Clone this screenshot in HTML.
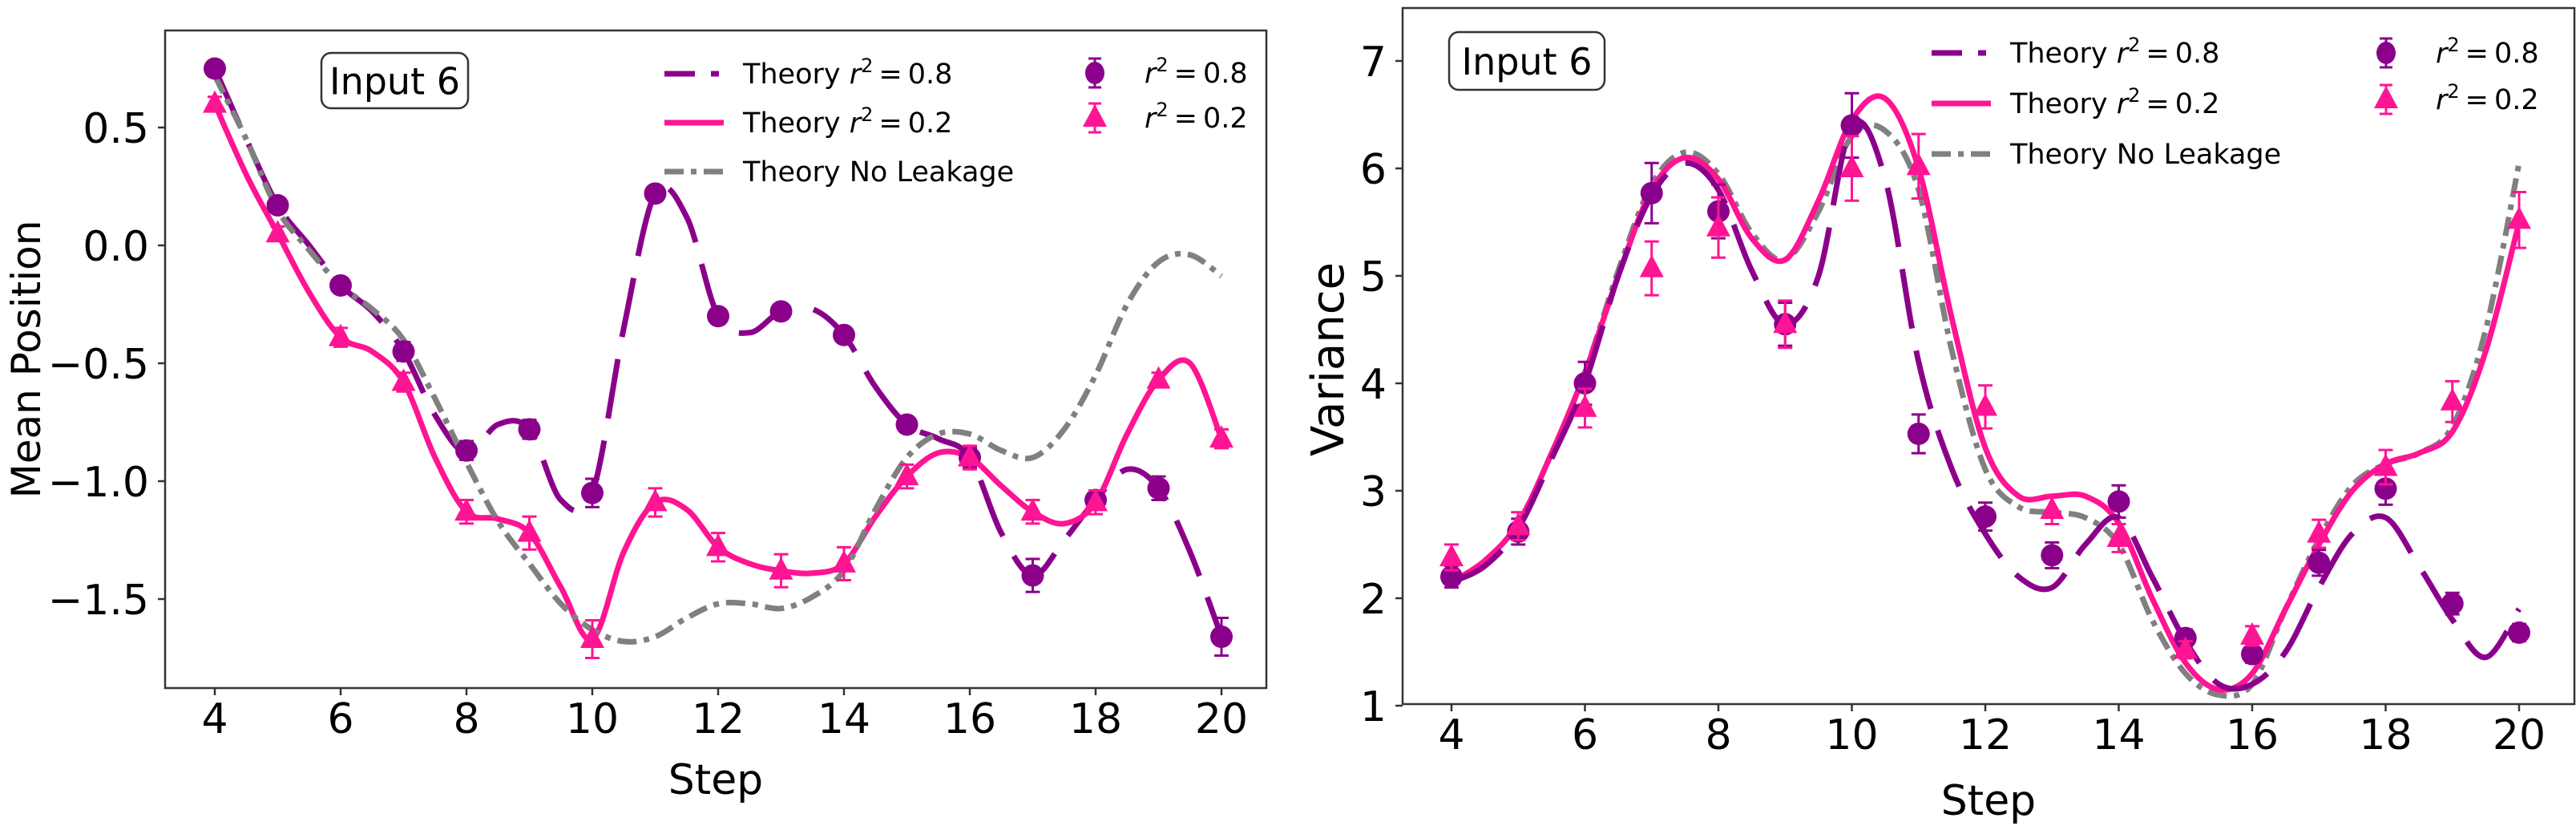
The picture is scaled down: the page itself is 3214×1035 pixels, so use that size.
<!DOCTYPE html>
<html><head><meta charset="utf-8">
<style>
html,body{margin:0;padding:0;background:#fff;}
svg{display:block;}
text{font-family:"DejaVu Sans","Liberation Sans",sans-serif;fill:#000;}
</style></head>
<body>
<svg id="fig" width="3214" height="1035" viewBox="0 0 3214 1035" xmlns="http://www.w3.org/2000/svg"></svg>
<script>
// ---------- data ----------
const steps = [4,5,6,7,8,9,10,11,12,13,14,15,16,17,18,19,20];
const thX = [4,4.5,5,5.5,6,6.5,7,7.5,8,8.5,9,9.5,10,10.5,11,11.5,12,12.5,13,13.5,14,14.5,15,15.5,16,16.5,17,17.5,18,18.5,19,19.5,20];

const meanPts08 = [0.75,0.17,-0.17,-0.45,-0.87,-0.78,-1.05,0.22,-0.30,-0.28,-0.38,-0.76,-0.90,-1.40,-1.08,-1.03,-1.66];
const meanErr08 = [0.03,0.03,0.03,0.04,0.04,0.04,0.06,0.03,0.03,0.03,0.03,0.03,0.04,0.07,0.04,0.05,0.08];
const meanPts02 = [0.60,0.05,-0.39,-0.58,-1.13,-1.22,-1.67,-1.09,-1.28,-1.38,-1.35,-0.98,-0.90,-1.13,-1.09,-0.57,-0.82];
const meanErr02 = [0.03,0.03,0.04,0.04,0.05,0.07,0.08,0.06,0.06,0.07,0.07,0.05,0.05,0.05,0.05,0.03,0.04];
const meanTh08 = [0.75,0.45,0.17,0.0,-0.17,-0.28,-0.45,-0.72,-0.88,-0.76,-0.78,-1.08,-1.05,-0.35,0.22,0.12,-0.30,-0.37,-0.28,-0.27,-0.38,-0.60,-0.76,-0.82,-0.90,-1.22,-1.40,-1.25,-1.08,-0.95,-1.03,-1.30,-1.66];
const meanTh02 = [0.60,0.30,0.05,-0.20,-0.39,-0.45,-0.58,-0.90,-1.13,-1.16,-1.22,-1.45,-1.67,-1.30,-1.09,-1.12,-1.28,-1.35,-1.38,-1.39,-1.35,-1.15,-0.98,-0.88,-0.90,-1.02,-1.13,-1.18,-1.09,-0.80,-0.57,-0.50,-0.82];
const meanThNL = [0.72,0.45,0.15,-0.02,-0.17,-0.27,-0.40,-0.65,-0.92,-1.17,-1.35,-1.52,-1.63,-1.68,-1.66,-1.58,-1.52,-1.52,-1.54,-1.49,-1.38,-1.12,-0.90,-0.80,-0.80,-0.87,-0.90,-0.78,-0.55,-0.25,-0.07,-0.04,-0.13];
const meanTicks = [0.5,0.0,-0.5,-1.0,-1.5];
const meanTickLabels = ["0.5","0.0","\u22120.5","\u22121.0","\u22121.5"];

const varPts08 = [2.20,2.62,4.00,5.77,5.60,4.55,6.40,3.53,2.76,2.40,2.90,1.63,1.48,2.33,3.02,1.95,1.68];
const varErr08 = [0.1,0.12,0.2,0.28,0.25,0.2,0.3,0.18,0.13,0.12,0.15,0.08,0.08,0.12,0.15,0.1,0.08];
const varPts02 = [2.38,2.67,3.77,5.07,5.45,4.55,6.00,6.02,3.78,2.82,2.56,1.52,1.65,2.60,3.22,3.83,5.52];
const varErr02 = [0.12,0.13,0.18,0.25,0.28,0.22,0.3,0.3,0.2,0.13,0.13,0.08,0.09,0.13,0.16,0.19,0.26];
const varTh08 = [2.15,2.30,2.65,3.30,4.00,5.00,5.75,6.05,5.80,5.05,4.55,5.00,6.40,5.90,4.20,3.20,2.60,2.20,2.10,2.50,2.75,2.20,1.60,1.20,1.20,1.50,2.10,2.60,2.75,2.30,1.80,1.45,1.90];
const varTh02 = [2.15,2.35,2.70,3.35,4.10,5.00,5.80,6.10,5.90,5.35,5.15,5.70,6.45,6.65,6.00,4.60,3.40,2.95,2.95,2.95,2.70,2.00,1.40,1.15,1.30,1.90,2.50,3.00,3.25,3.35,3.55,4.30,5.50];
const varThNL = [2.15,2.35,2.70,3.35,4.10,5.05,5.85,6.15,5.95,5.40,5.15,5.60,6.30,6.35,5.80,4.30,3.20,2.85,2.80,2.75,2.50,1.80,1.30,1.10,1.20,1.90,2.55,3.05,3.25,3.35,3.60,4.50,6.05];
const varTicks = [1,2,3,4,5,6,7];
const varTickLabels = ["1","2","3","4","5","6","7"];
const xTicks = [4,6,8,10,12,14,16,18,20];

// ---------- helpers ----------
const NS = "http://www.w3.org/2000/svg";
const fig = document.getElementById('fig');
function mk(tag, attrs, parent){
  const e = document.createElementNS(NS, tag);
  for (const k in attrs) e.setAttribute(k, attrs[k]);
  (parent||fig).appendChild(e);
  return e;
}
const PURPLE = "#8b008b", PINK = "#ff1493", GRAY = "#808080";

function spline(pts){
  let d = "M" + pts[0][0].toFixed(1) + "," + pts[0][1].toFixed(1);
  for (let i=0;i<pts.length-1;i++){
    const p0 = pts[Math.max(0,i-1)], p1 = pts[i], p2 = pts[i+1], p3 = pts[Math.min(pts.length-1,i+2)];
    const c1x = p1[0]+(p2[0]-p0[0])/6, c1y = p1[1]+(p2[1]-p0[1])/6;
    const c2x = p2[0]-(p3[0]-p1[0])/6, c2y = p2[1]-(p3[1]-p1[1])/6;
    d += " C"+c1x.toFixed(1)+","+c1y.toFixed(1)+" "+c2x.toFixed(1)+","+c2y.toFixed(1)+" "+p2[0].toFixed(1)+","+p2[1].toFixed(1);
  }
  return d;
}

function rLabel(t, val){
  const ts = mk('tspan', {'font-style':'italic'}, t); ts.textContent = "r";
  const sp = mk('tspan', {dy:-14,'font-size':24}, t); sp.textContent = "2";
  const eq = mk('tspan', {dy:14}, t); eq.textContent = "\u2009=\u2009" + val;
}

function panel(cfg){
  const g = mk('g', {});
  
  
  const L=cfg.left,R=cfg.right,T=cfg.top,B=cfg.bottom;
  const sx = v => cfg.x0px + (v-4)*(cfg.x1px-cfg.x0px)/16;
  const sy = v => cfg.yA.px + (v-cfg.yA.v)*(cfg.yB.px-cfg.yA.px)/(cfg.yB.v-cfg.yA.v);
  const clipId = cfg.name+"-clip";
  const cp = mk('clipPath', {id:clipId}, g);
  mk('rect', {x:L,y:T,width:R-L,height:B-T}, cp);
  const plot = mk('g', {'clip-path':'url(#'+clipId+')'}, g);

  const lines = [
    {vals:cfg.thNL, color:GRAY, dash:"24,9,7,9", name:"theory-no-leakage-line"},
    {vals:cfg.th02, color:PINK, dash:"none", name:"theory-r2-0.2-line"},
    {vals:cfg.th08, color:PURPLE, dash:"75,28", name:"theory-r2-0.8-line"}
  ];
  cfg.lineOrder.forEach(i=>{
    const ln = lines[i];
    const pts = thX.map((x,j)=>[sx(x), sy(ln.vals[j])]);
    const p = mk('path', {d:spline(pts), fill:"none", stroke:ln.color, 'stroke-width':7, 'stroke-dasharray':ln.dash}, plot);
    
    
  });

  function errs(vals, errv, color, name){
    steps.forEach((s,i)=>{
      const x=sx(s), y1=sy(vals[i]+errv[i]), y2=sy(vals[i]-errv[i]);
      const e = mk('path', {d:`M${x},${y1}V${y2}M${x-9},${y1}H${x+9}M${x-9},${y2}H${x+9}`, stroke:color, 'stroke-width':3, fill:'none'}, plot);
      
      
    });
  }
  errs(cfg.p08, cfg.e08, PURPLE, 'r2-0.8');
  steps.forEach((s,i)=>{
    const c = mk('circle', {cx:sx(s), cy:sy(cfg.p08[i]), r:14, fill:PURPLE}, plot);
    
    
  });
  errs(cfg.p02, cfg.e02, PINK, 'r2-0.2');
  steps.forEach((s,i)=>{
    const x=sx(s), y=sy(cfg.p02[i]);
    const t = mk('path', {d:`M${x},${y-17}L${x+15},${y+11}L${x-15},${y+11}Z`, fill:PINK}, plot);
    
    
  });

  const fr = mk('rect', {x:L,y:T,width:R-L,height:B-T,fill:'none',stroke:'#333','stroke-width':2.5}, g);
  
  

  xTicks.forEach(v=>{
    const x=sx(v);
    mk('line', {x1:x,y1:B,x2:x,y2:B+9,stroke:'#333','stroke-width':2.5}, g);
    const t = mk('text', {x:x,y:B+56,'text-anchor':'middle','font-size':52}, g);
    t.textContent = v;
    
    
  });
  cfg.yTicks.forEach((v,i)=>{
    const y=sy(v);
    mk('line', {x1:L-9,y1:y,x2:L,y2:y,stroke:'#333','stroke-width':2.5}, g);
    const t = mk('text', {x:L-20,y:y+19,'text-anchor':'end','font-size':52}, g);
    t.textContent = cfg.yLabels[i];
    
    
  });

  const xt = mk('text', {x:(L+R)/2+cfg.xTitleDx,y:cfg.xTitleY,'text-anchor':'middle','font-size':52}, g);
  xt.textContent = "Step";
  
  
  const yt = mk('text', {x:0,y:0,'text-anchor':'middle','font-size':cfg.yTitleSize,transform:`translate(${cfg.yTitleX},${cfg.yTitleY}) rotate(-90)`}, g);
  yt.textContent = cfg.yTitle;
  
  

  const ib = mk('g', {}, g);
  
  
  mk('rect', {x:cfg.box[0],y:cfg.box[1],width:cfg.box[2],height:cfg.box[3],rx:12,fill:'#fff',stroke:'#333','stroke-width':2.5}, ib);
  const it = mk('text', {x:cfg.box[0]+cfg.box[2]/2,y:cfg.box[1]+cfg.box[3]/2+17,'text-anchor':'middle','font-size':46}, ib);
  it.textContent = "Input 6";

  const lg = mk('g', {}, g);
  
  
  const [lx, ly0, dy, mx, my0, mdy] = cfg.legend;
  const items = [
    {c:PURPLE,d:"38,20,10,20",label:"Theory ",r:"0.8"},
    {c:PINK,d:"none",label:"Theory ",r:"0.2"},
    {c:GRAY,d:"24,9,7,9",label:"Theory No Leakage",r:null}
  ];
  items.forEach((it,i)=>{
    const y = ly0+i*dy;
    const e = mk('g', {}, lg);
    
    
    mk('line', {x1:lx,y1:y,x2:lx+74,y2:y,stroke:it.c,'stroke-width':7,'stroke-dasharray':it.d}, e);
    const t = mk('text', {x:lx+98,y:y+12,'font-size':35}, e);
    if (it.r===null){ t.textContent = it.label; }
    else {
      t.appendChild(document.createTextNode(it.label));
      rLabel(t, it.r);
    }
  });
  [{c:PURPLE,tri:false,r:"0.8"},{c:PINK,tri:true,r:"0.2"}].forEach((it,i)=>{
    const y = my0+i*mdy;
    const e = mk('g', {}, lg);
    
    
    mk('path', {d:`M${mx},${y-18}V${y+18}M${mx-8},${y-18}H${mx+8}M${mx-8},${y+18}H${mx+8}`, stroke:it.c,'stroke-width':3}, e);
    if (it.tri) mk('path', {d:`M${mx},${y-17}L${mx+15},${y+11}L${mx-15},${y+11}Z`, fill:it.c}, e);
    else mk('ellipse', {cx:mx,cy:y,rx:12,ry:14,fill:it.c}, e);
    const t = mk('text', {x:mx+62,y:y+12,'font-size':35}, e);
    rLabel(t, it.r);
  });
}

panel({
  name:"mean-position-panel", left:206, right:1580, top:38, bottom:858,
  x0px:268, x1px:1524, yA:{v:0.5,px:159}, yB:{v:0,px:306},
  th08:meanTh08, th02:meanTh02, thNL:meanThNL, lineOrder:[2,1,0],
  p08:meanPts08, e08:meanErr08, p02:meanPts02, e02:meanErr02,
  yTicks:meanTicks, yLabels:meanTickLabels,
  xTitleDx:0, xTitleY:990, yTitle:"Mean Position", yTitleSize:50, yTitleX:50, yTitleY:448,
  box:[401,66,183,69],
  legend:[829,92,61,1366,91,56]
});
panel({
  name:"variance-panel", left:1750, right:3212, top:10, bottom:878,
  x0px:1811, x1px:3143, yA:{v:7,px:76}, yB:{v:6,px:210},
  th08:varTh08, th02:varTh02, thNL:varThNL, lineOrder:[0,1,2],
  p08:varPts08, e08:varErr08, p02:varPts02, e02:varErr02,
  yTicks:varTicks, yLabels:varTickLabels,
  xTitleDx:0, xTitleY:1016, yTitle:"Variance", yTitleSize:56, yTitleX:1676, yTitleY:448,
  box:[1808,40,194,72],
  legend:[2410,66,63,2977,66,58]
});
</script>
</body></html>
